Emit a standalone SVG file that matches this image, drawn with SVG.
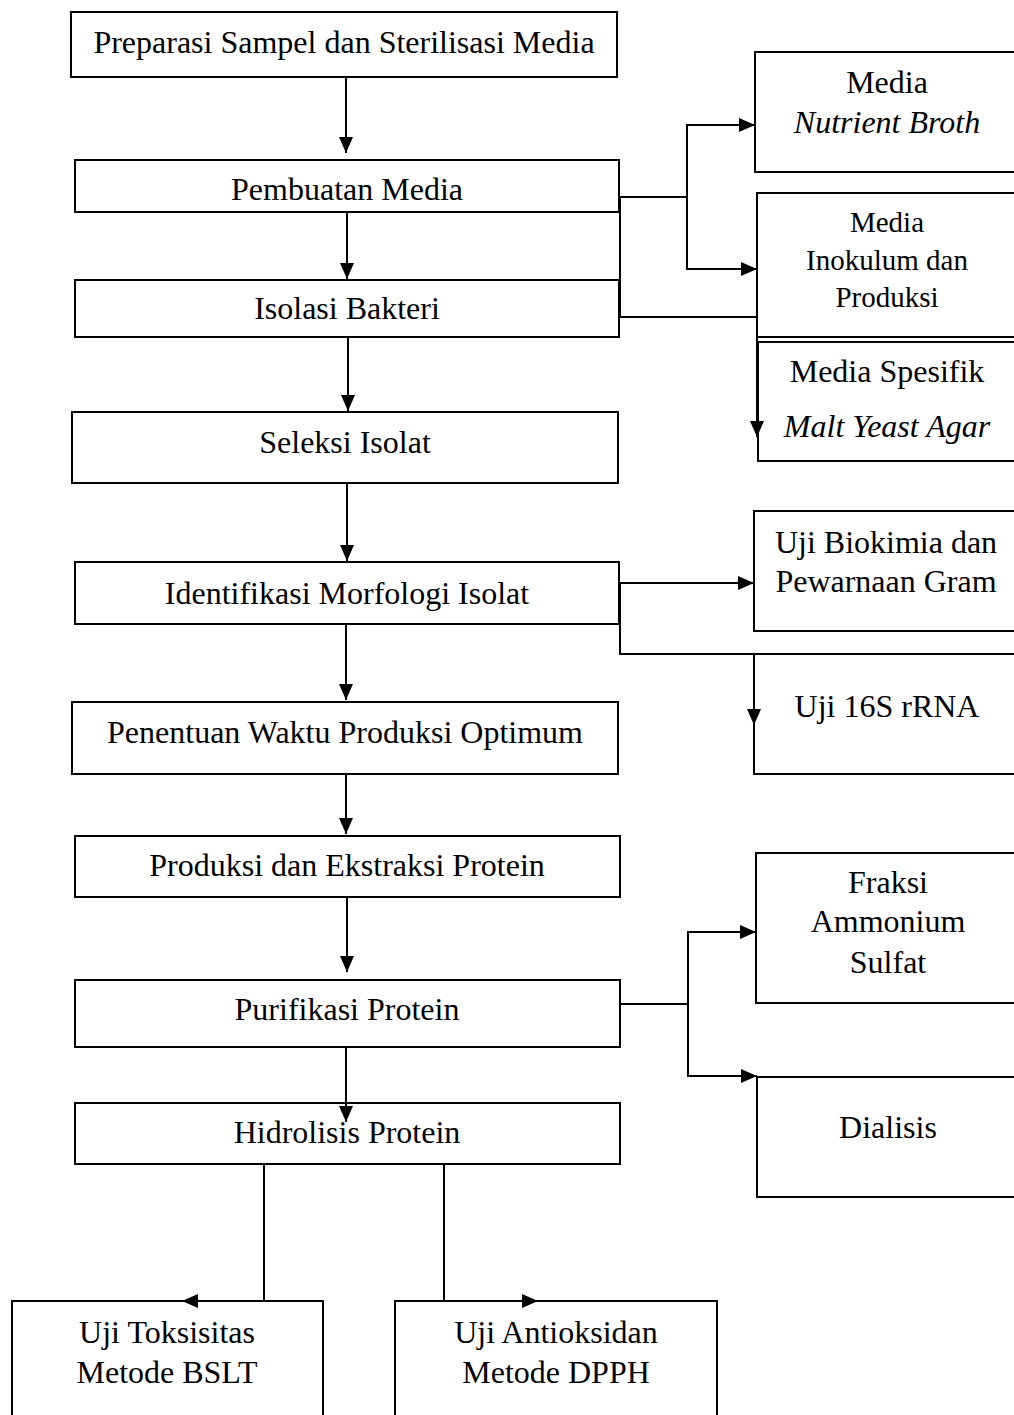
<svg xmlns="http://www.w3.org/2000/svg" width="1014" height="1415" viewBox="0 0 1014 1415">
<style>
.box{fill:#fff;stroke:#000;stroke-width:2}
.t{font-family:"Liberation Serif","Times New Roman",serif;font-size:32px;text-anchor:middle;fill:#000}
.s{font-size:29px}
.i{font-style:italic}
.c{fill:none;stroke:#000;stroke-width:2}
</style>
<defs>
<marker id="ah" markerUnits="userSpaceOnUse" markerWidth="18" markerHeight="16" refX="16" refY="7" orient="auto">
<path d="M0,0 L16,7 L0,14 z" fill="#000"/>
</marker>
</defs>
<rect width="1014" height="1415" fill="#fff"/>
<g id="n1"><rect class="box" x="71" y="12" width="546" height="65"/><text class="t" x="344" y="53">Preparasi Sampel dan Sterilisasi Media</text></g>
<g id="n2"><rect class="box" x="75" y="160" width="544" height="52"/><text class="t" x="347" y="200">Pembuatan Media</text></g>
<g id="n3"><rect class="box" x="75" y="280" width="544" height="57"/><text class="t" x="347" y="319">Isolasi Bakteri</text></g>
<g id="n4"><rect class="box" x="72" y="412" width="546" height="71"/><text class="t" x="345" y="453">Seleksi Isolat</text></g>
<g id="n5"><rect class="box" x="75" y="562" width="544" height="62"/><text class="t" x="347" y="604">Identifikasi Morfologi Isolat</text></g>
<g id="n6"><rect class="box" x="72" y="702" width="546" height="72"/><text class="t" x="345" y="743">Penentuan Waktu Produksi Optimum</text></g>
<g id="n7"><rect class="box" x="75" y="836" width="545" height="61"/><text class="t" x="347" y="876">Produksi dan Ekstraksi Protein</text></g>
<g id="n8"><rect class="box" x="75" y="980" width="545" height="67"/><text class="t" x="347" y="1020">Purifikasi Protein</text></g>
<g id="n9"><rect class="box" x="75" y="1103" width="545" height="61"/><text class="t" x="347" y="1143">Hidrolisis Protein</text></g>
<g id="r1"><rect class="box" x="755" y="52" width="264" height="120"/><text class="t" x="887" y="93">Media</text><text class="t i" x="887" y="133">Nutrient Broth</text></g>
<g id="r2"><rect class="box" x="757" y="193" width="262" height="144"/><text class="t s" x="887" y="232">Media</text><text class="t s" x="887" y="270">Inokulum dan</text><text class="t s" x="887" y="307">Produksi</text></g>
<g id="r3"><rect class="box" x="758" y="342" width="261" height="119"/><text class="t" x="887" y="382">Media Spesifik</text><text class="t i" x="887" y="437">Malt Yeast Agar</text></g>
<g id="r4"><rect class="box" x="754" y="511" width="265" height="120"/><text class="t" x="886" y="553">Uji Biokimia dan</text><text class="t" x="886" y="592">Pewarnaan Gram</text></g>
<g id="r5"><rect class="box" x="754" y="654" width="265" height="120"/><text class="t" x="887" y="717">Uji 16S rRNA</text></g>
<g id="r6"><rect class="box" x="756" y="853" width="263" height="150"/><text class="t" x="888" y="893">Fraksi</text><text class="t" x="888" y="932">Ammonium</text><text class="t" x="888" y="973">Sulfat</text></g>
<g id="r7"><rect class="box" x="757" y="1077" width="262" height="120"/><text class="t" x="888" y="1138">Dialisis</text></g>
<g id="b1"><rect class="box" x="12" y="1301" width="311" height="130"/><text class="t" x="167" y="1343">Uji Toksisitas</text><text class="t" x="167" y="1383">Metode BSLT</text></g>
<g id="b2"><rect class="box" x="395" y="1301" width="322" height="130"/><text class="t" x="556" y="1343">Uji Antioksidan</text><text class="t" x="556" y="1383">Metode DPPH</text></g>
<g id="connectors">
<path class="c" d="M346,77 V153" marker-end="url(#ah)"/>
<path class="c" d="M347,212 V279" marker-end="url(#ah)"/>
<path class="c" d="M348,337 V411" marker-end="url(#ah)"/>
<path class="c" d="M347,483 V561" marker-end="url(#ah)"/>
<path class="c" d="M346,624 V700" marker-end="url(#ah)"/>
<path class="c" d="M346,774 V834" marker-end="url(#ah)"/>
<path class="c" d="M347,897 V972" marker-end="url(#ah)"/>
<path class="c" d="M346,1047 V1122" marker-end="url(#ah)"/>
<path class="c" d="M619,197 H687 V125 H755" marker-end="url(#ah)"/>
<path class="c" d="M687,197 V269 H757" marker-end="url(#ah)"/>
<path class="c" d="M620,197 V317 H757 V437" marker-end="url(#ah)"/>
<path class="c" d="M619,583 H754" marker-end="url(#ah)"/>
<path class="c" d="M620,583 V654 H754 V725" marker-end="url(#ah)"/>
<path class="c" d="M620,1004 H688 V932 H756" marker-end="url(#ah)"/>
<path class="c" d="M688,1004 V1076 H757" marker-end="url(#ah)"/>
<path class="c" d="M264,1164 V1301 H182" marker-end="url(#ah)"/>
<path class="c" d="M444,1164 V1301 H538" marker-end="url(#ah)"/>
</g>
</svg>
